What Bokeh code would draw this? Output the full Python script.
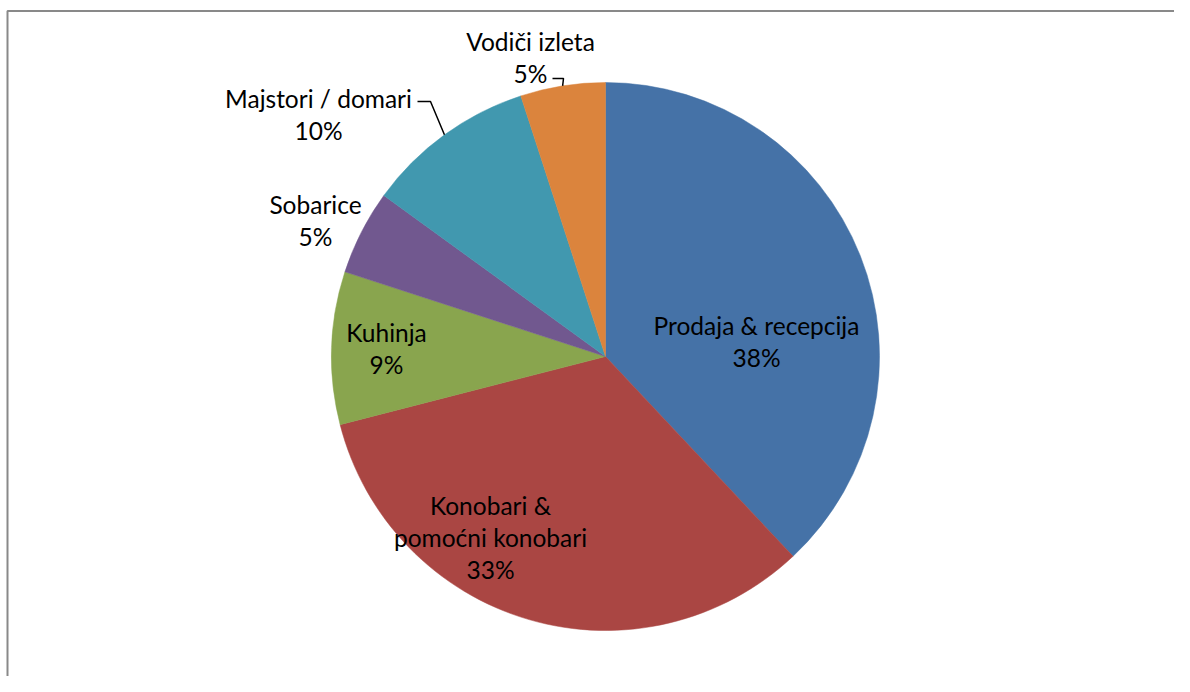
import math
from bokeh.plotting import figure
from bokeh.models import Range1d, ColumnDataSource
from bokeh.core.properties import value
from bokeh.embed import file_html
from bokeh.resources import INLINE

# ---- data ----
categories = ["Prodaja & recepcija", "Konobari & pomoćni konobari", "Kuhinja",
              "Sobarice", "Majstori / domari", "Vodiči izleta"]
label_lines = [["Prodaja & recepcija"], ["Konobari &", "pomoćni konobari"], ["Kuhinja"],
               ["Sobarice"], ["Majstori / domari"], ["Vodiči izleta"]]
shares = [38, 33, 9, 5, 10, 5]
colors = ["#4572A7", "#AA4643", "#89A54E", "#71588F", "#4198AF", "#DB843D"]

# ---- layout (screen-like coordinates, y measured downward, converted) ----
W, H = 1174, 676
def sy(y):
    return H - y

CX, CY, R = 605, sy(356), 274
label_pos = [(756, 341), (490, 537), (386, 347.5), (315, 219.5), (318, 113.5), (530, 56.5)]
LINE_STEP = 32
leader_from = {4: (417, 101), 5: (552, 78)}
leader_bend = {4: (430, 101), 5: (563, 78)}

p = figure(width=W, height=H, output_backend="svg", toolbar_location=None,
           x_range=Range1d(0, W), y_range=Range1d(0, H),
           min_border=0, match_aspect=False)
p.axis.visible = False
p.grid.visible = False
p.outline_line_color = None
p.background_fill_color = "white"

total = sum(shares)
starts, ends, mids = [], [], []
cum = 0.0
for v in shares:
    a0 = math.pi / 2 - cum / total * 2 * math.pi
    cum += v
    a1 = math.pi / 2 - cum / total * 2 * math.pi
    starts.append(a0)
    ends.append(a1)
    mids.append((a0 + a1) / 2)

src = ColumnDataSource(dict(cat=categories, share=shares, color=colors,
                            start=starts, end=ends))
p.wedge(x=CX, y=CY, radius=R, start_angle="start", end_angle="end",
        direction="clock", fill_color="color", line_color="color",
        line_width=0.5, source=src)

# labels: one text row per line
xs, ys, ts = [], [], []
for (lx, ly), lines, s in zip(label_pos, label_lines, shares):
    rows = lines + [f"{s}%"]
    n = len(rows)
    for i, r in enumerate(rows):
        xs.append(lx)
        ys.append(sy(ly + (i - (n - 1) / 2) * LINE_STEP))
        ts.append(r)
lsrc = ColumnDataSource(dict(x=xs, y=ys, text=ts))
p.text(x="x", y="y", text="text", source=lsrc, text_align="center",
       text_baseline="middle", text_font=value("Lato"), text_font_size="24.5px",
       text_color="black")

# leader lines for outside labels
for i in (4, 5):
    ex = CX + R * math.cos(mids[i])
    ey = CY + R * math.sin(mids[i])
    fx, fy = leader_from[i]
    bx, by = leader_bend[i]
    p.line(x=[fx, bx, ex], y=[sy(fy), sy(by), ey], line_color="black", line_width=1.5)

# chart area border (top and left visible)
p.line(x=[7, 7, W], y=[sy(H), sy(10.5), sy(10.5)], line_color="#898989", line_width=2)

open("out.html", "w").write(file_html(p, INLINE))
